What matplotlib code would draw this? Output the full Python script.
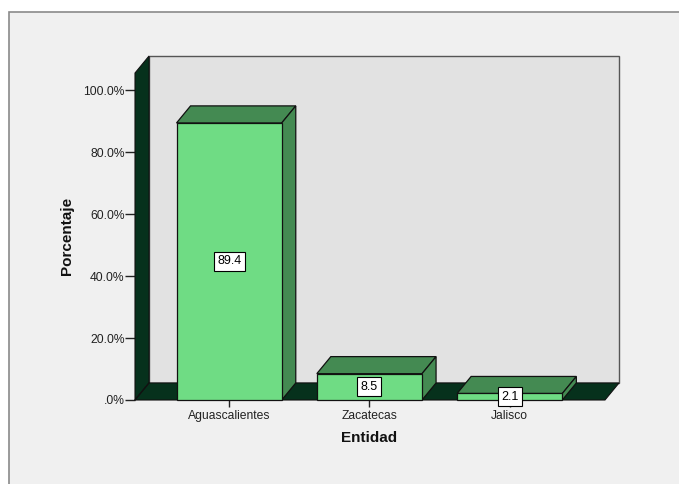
import matplotlib
matplotlib.use("Agg")
import matplotlib.pyplot as plt
from matplotlib.patches import Polygon, Rectangle

# Data
categories = ["Aguascalientes", "Zacatecas", "Jalisco"]
percentages = [89.4, 8.5, 2.1]
y_ticks = [0, 20, 40, 60, 80, 100]
y_tick_labels = [".0%", "20.0%", "40.0%", "60.0%", "80.0%", "100.0%"]

# Style
FRONT = "#6fdc84"
SHADE = "#448a52"
DARK = "#06311c"
WALL = "#e2e2e2"
BG = "#f0f0f0"
FONT = ["Liberation Sans", "DejaVu Sans"]
plt.rcParams["font.family"] = FONT

# 3-D box geometry (category units / percent units)
X0, X1 = -0.671, 2.679      # front plane extent
Y_TOP = 105.5               # front top of the walls
DX, DY = 0.1, 5.5           # depth offset
BAR_W = 0.75

W, H = 679, 484
fig = plt.figure(figsize=(W / 100, H / 100), dpi=100)
fig.patch.set_facecolor("white")
# outer frame (runs off the right and bottom edges)
fig.patches.append(Rectangle((9 / W, -0.1), 1.2, (H - 12) / H + 0.1, transform=fig.transFigure,
                             facecolor=BG, edgecolor="#8a8a8a", linewidth=1.2, zorder=-5))

left_px, right_px, top_px, bot_px = 135, 619, 56, 400
ax = fig.add_axes([left_px / W, (H - bot_px) / H, (right_px - left_px) / W, (bot_px - top_px) / H])
ax.set_zorder(1)
ax.set_xlim(X0, X1 + DX)
ax.set_ylim(0, Y_TOP + DY)
ax.patch.set_alpha(0)
for s in ax.spines.values():
    s.set_visible(False)

# back wall
ax.add_patch(Rectangle((X0 + DX, DY), X1 - X0, Y_TOP, facecolor=WALL,
                       edgecolor="#555555", linewidth=1.0, zorder=1, clip_on=False))
# left wall
ax.add_patch(Polygon([(X0, 0), (X0, Y_TOP), (X0 + DX, Y_TOP + DY), (X0 + DX, DY)],
                     closed=True, facecolor=DARK, edgecolor="#111111", linewidth=0.8,
                     zorder=2, clip_on=False))
# floor
ax.add_patch(Polygon([(X0, 0), (X1, 0), (X1 + DX, DY), (X0 + DX, DY)],
                     closed=True, facecolor=DARK, edgecolor="#111111", linewidth=0.8,
                     zorder=2, clip_on=False))
ax.plot([X0, X0 + DX], [0, DY], color="#111111", lw=0.8, zorder=2.5, clip_on=False)

# bars
for i, v in enumerate(percentages):
    l, r = i - BAR_W / 2, i + BAR_W / 2
    top = Polygon([(l, v), (r, v), (r + DX, v + DY), (l + DX, v + DY)], closed=True,
                  facecolor=SHADE, edgecolor="#111111", linewidth=0.9, zorder=3, clip_on=False)
    side = Polygon([(r, 0), (r + DX, DY), (r + DX, v + DY), (r, v)], closed=True,
                   facecolor=SHADE, edgecolor="#111111", linewidth=0.9, zorder=3, clip_on=False)
    front = Rectangle((l, 0), BAR_W, v, facecolor=FRONT, edgecolor="#111111",
                      linewidth=0.9, zorder=4, clip_on=False)
    ax.add_patch(top)
    ax.add_patch(side)
    ax.add_patch(front)
    ax.text(i, v / 2, f"{v:.1f}", ha="center", va="center", fontsize=9, color="black",
            zorder=5, bbox=dict(boxstyle="square,pad=0.28", facecolor="white",
                                edgecolor="black", linewidth=0.8))

# axes ticks
ax.set_yticks(y_ticks)
ax.set_yticklabels(y_tick_labels)
ax.set_xticks(range(len(categories)))
ax.set_xticklabels(categories)
ax.tick_params(axis="y", direction="out", length=7, width=1, color="#222222",
               labelsize=8.7, labelcolor="#222222", pad=0.5)
ax.tick_params(axis="x", direction="out", length=5, width=1, color="#222222",
               labelsize=8.7, labelcolor="#222222", pad=2)

ax.text(-0.141, 0.477, "Porcentaje", transform=ax.transAxes, rotation=90,
        ha="center", va="center", fontsize=11, fontweight="bold", color="#111111")
ax.text((369 - left_px) / (right_px - left_px), (bot_px - 438) / (bot_px - top_px), "Entidad",
        transform=ax.transAxes, ha="center", va="center", fontsize=11,
        fontweight="bold", color="#111111")

fig.savefig("out.png", dpi=100)
